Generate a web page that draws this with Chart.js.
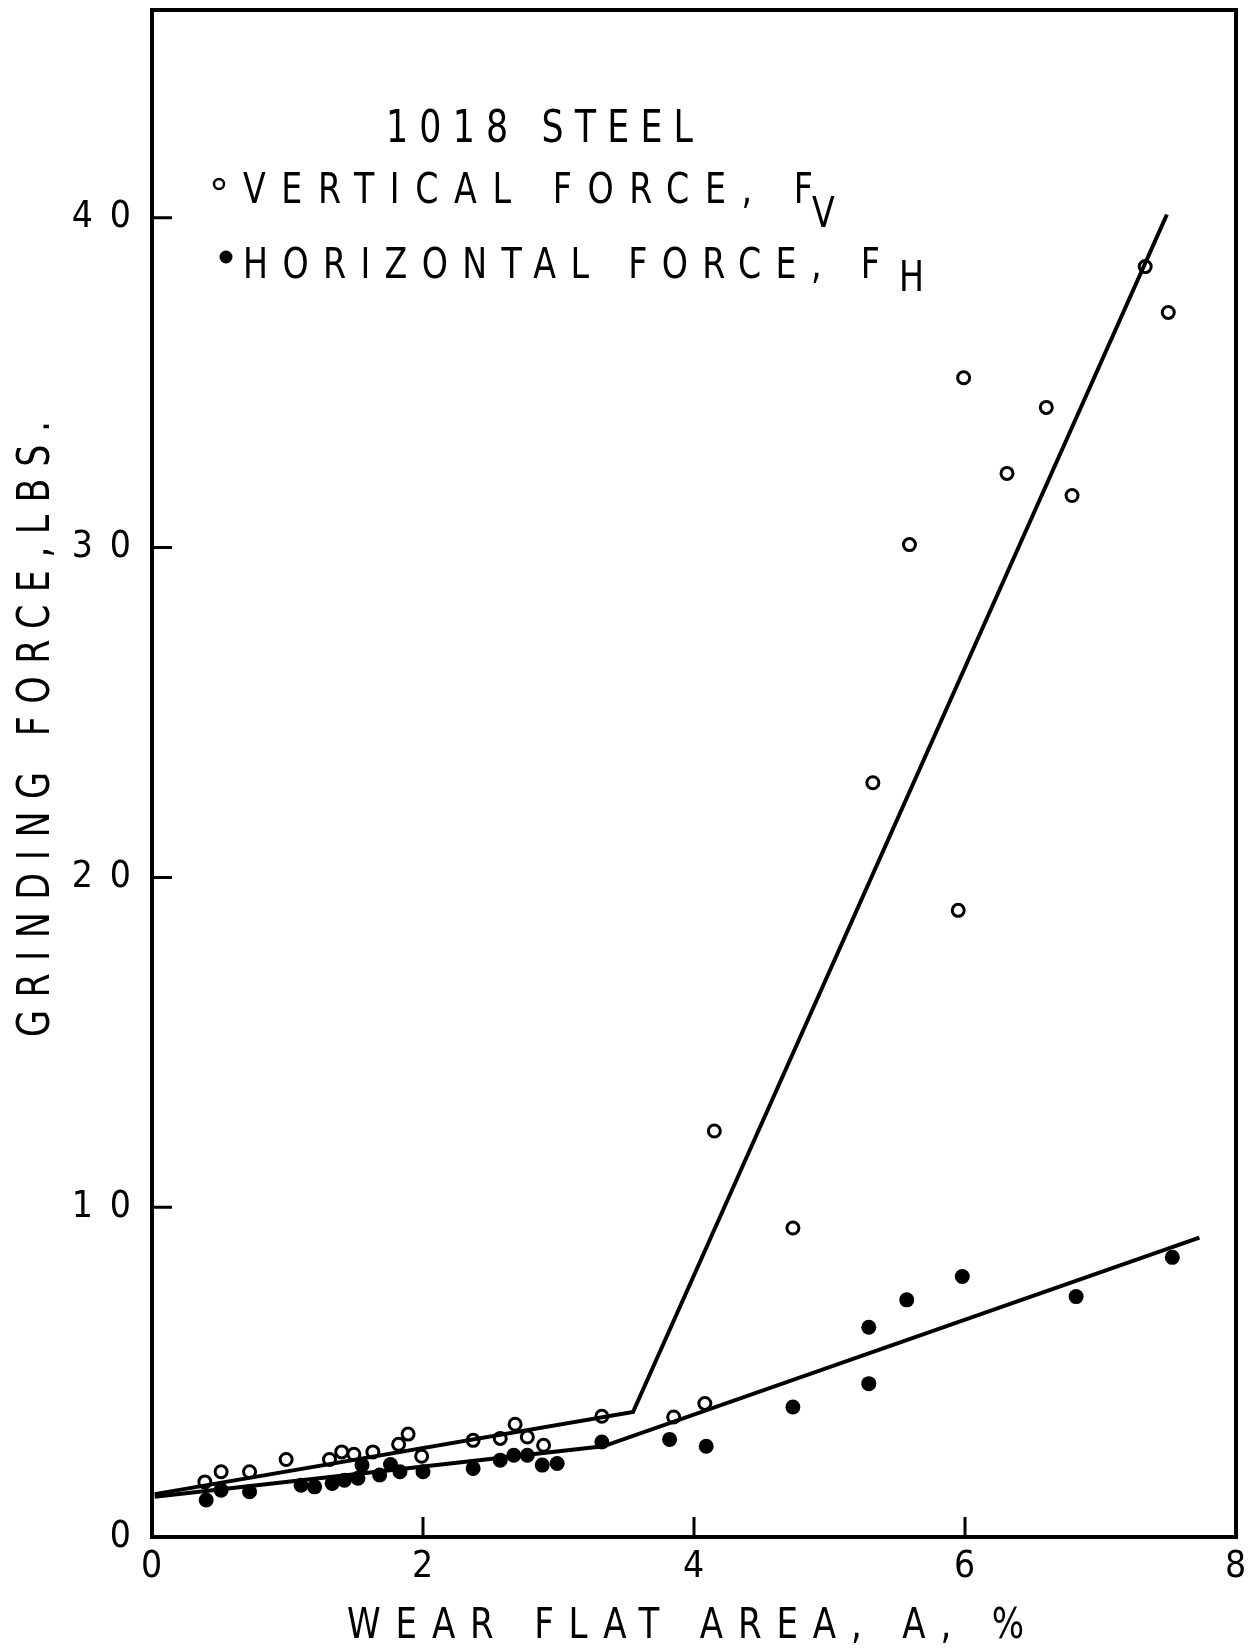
<!DOCTYPE html>
<html>
<head>
<meta charset="utf-8">
<script src="https://cdn.jsdelivr.net/npm/chart.js@4.4.1/dist/chart.umd.min.js"></script>
<style>
  html, body { margin: 0; padding: 0; background: #fff; }
  canvas { display: block; }
</style>
</head>
<body>
<canvas id="forces" width="1249" height="1648"></canvas>
<script>
const FONT = '"DejaVu Sans Condensed", "DejaVu Sans", sans-serif';

// vertical force Fv (lbs) against wear flat area A (%), open circles
const vertArea = [0.39, 0.51, 0.72, 0.99, 1.31, 1.40, 1.49, 1.63, 1.82, 1.89, 1.99, 2.37, 2.57, 2.68, 2.77,
                  2.89, 3.32, 3.85, 4.08, 4.15, 4.73, 5.32, 5.59, 5.95, 5.99, 6.31, 6.60, 6.79, 7.33, 7.50];
const vertForce = [1.67, 1.98, 1.98, 2.35, 2.35, 2.58, 2.51, 2.58, 2.81, 3.12, 2.45, 2.93, 2.99, 3.42, 3.03,
                   2.78, 3.66, 3.64, 4.05, 12.31, 9.37, 22.87, 30.09, 19.0, 35.15, 32.25, 34.25, 31.58, 38.52, 37.13];

// horizontal force Fh (lbs), filled dots
const horizArea = [0.40, 0.51, 0.72, 1.10, 1.20, 1.33, 1.42, 1.52, 1.55, 1.68, 1.76, 1.83, 2.00, 2.37, 2.57,
                   2.67, 2.77, 2.88, 2.99, 3.32, 3.82, 4.09, 4.73, 5.29, 5.29, 5.57, 5.98, 6.82, 7.53];
const horizForce = [1.12, 1.42, 1.37, 1.57, 1.52, 1.62, 1.72, 1.78, 2.18, 1.88, 2.2, 1.98, 1.98, 2.08, 2.33,
                    2.48, 2.48, 2.18, 2.23, 2.88, 2.96, 2.75, 3.94, 4.65, 6.36, 7.19, 7.90, 7.29, 8.48];

// fitted lines, two straight segments each
const vertFitArea = [0.02, 3.55, 7.49];
const vertFitForce = [1.3, 3.79, 40.1];
const horizFitArea = [0.02, 3.33, 7.73];
const horizFitForce = [1.22, 2.75, 9.08];

const xTickValues = [0, 2, 4, 6, 8];
const yTickValues = [0, 10, 20, 30, 40];

const toPoints = (xs, ys) => xs.map((x, i) => ({x: x, y: ys[i]}));

// narrow, widely spaced lettering: squeeze glyphs by k and spread them over width
function spacedText(ctx, text, x, y, width, k) {
    ctx.save();
    ctx.translate(x, y);
    ctx.scale(k, 1);
    ctx.letterSpacing = '0px';
    const n = Array.from(text).length;
    const w = ctx.measureText(text).width;
    const gap = n > 1 ? (width / k - w) / (n - 1) : 0;
    ctx.letterSpacing = gap.toFixed(2) + 'px';
    ctx.fillText(text, 0, 0);
    ctx.restore();
}

const paperPlugin = {
    id: 'paper',
    beforeDraw: function (chart) {
        // tick numerals are widely spaced
        chart.ctx.letterSpacing = '17px';
    },
    afterDraw: function (chart) {
        const ctx = chart.ctx;
        const a = chart.chartArea;
        const x = chart.scales.x;
        const y = chart.scales.y;
        ctx.save();
        ctx.letterSpacing = '0px';
        ctx.strokeStyle = '#000';
        ctx.fillStyle = '#000';

        // frame
        ctx.lineWidth = 4;
        ctx.strokeRect(a.left, a.top, a.right - a.left, a.bottom - a.top);

        // inward tick marks
        ctx.lineWidth = 3;
        ctx.beginPath();
        y.ticks.forEach(function (t) {
            if (t.value <= y.min) return;
            const py = y.getPixelForValue(t.value);
            ctx.moveTo(a.left, py);
            ctx.lineTo(a.left + 20, py);
        });
        x.ticks.forEach(function (t) {
            if (t.value <= x.min || t.value >= x.max) return;
            const px = x.getPixelForValue(t.value);
            ctx.moveTo(px, a.bottom);
            ctx.lineTo(px, a.bottom - 20);
        });
        ctx.stroke();

        ctx.textAlign = 'left';
        ctx.textBaseline = 'alphabetic';
        const k = 0.88;

        // axis titles
        ctx.font = '43px ' + FONT;
        spacedText(ctx, 'WEAR FLAT AREA, A, %', 347, 1638, 677, k);

        ctx.save();
        ctx.translate(49, 1037);
        ctx.rotate(-Math.PI / 2);
        ctx.font = '44px ' + FONT;
        spacedText(ctx, 'GRINDING FORCE,LBS.', 0, 0, 616, k);
        ctx.restore();

        // key
        ctx.font = '44px ' + FONT;
        spacedText(ctx, '1018 STEEL', 386, 142, 307, k);

        ctx.lineWidth = 2.5;
        ctx.beginPath();
        ctx.arc(219, 184, 5, 0, Math.PI * 2);
        ctx.stroke();
        ctx.font = '42px ' + FONT;
        spacedText(ctx, 'VERTICAL FORCE, F', 243, 203, 570, k);
        spacedText(ctx, 'V', 812, 227, 0, k);

        ctx.beginPath();
        ctx.arc(226, 257, 6.5, 0, Math.PI * 2);
        ctx.fill();
        spacedText(ctx, 'HORIZONTAL FORCE, F', 243, 278, 637, k);
        spacedText(ctx, 'H', 899, 291, 0, k);

        ctx.restore();
    }
};

const ctx = document.getElementById('forces');
const forceChart = new Chart(ctx, {
    type: 'scatter',
    data: {
        datasets: [
            {
                label: 'Fv fit',
                data: toPoints(vertFitArea, vertFitForce),
                showLine: true,
                borderColor: '#000',
                borderWidth: 4,
                pointRadius: 0,
                fill: false
            },
            {
                label: 'Fh fit',
                data: toPoints(horizFitArea, horizFitForce),
                showLine: true,
                borderColor: '#000',
                borderWidth: 4,
                pointRadius: 0,
                fill: false
            },
            {
                label: 'VERTICAL FORCE, Fv',
                data: toPoints(vertArea, vertForce),
                pointRadius: 6,
                pointBorderWidth: 3,
                pointBorderColor: '#000',
                pointBackgroundColor: 'rgba(255,255,255,0)'
            },
            {
                label: 'HORIZONTAL FORCE, Fh',
                data: toPoints(horizArea, horizForce),
                pointRadius: 7.5,
                pointBorderWidth: 0,
                pointBackgroundColor: '#000'
            }
        ]
    },
    options: {
        responsive: false,
        animation: false,
        devicePixelRatio: 1,
        layout: {padding: {top: 10, right: 13, left: 0, bottom: 0}},
        plugins: {
            legend: {display: false},
            tooltip: {enabled: false}
        },
        scales: {
            x: {
                type: 'linear',
                min: 0,
                max: 8,
                afterBuildTicks: function (scale) {
                    scale.ticks = xTickValues.map(function (v) { return {value: v}; });
                },
                ticks: {
                    color: '#000',
                    font: {family: FONT, size: 37},
                    padding: 8,
                    labelOffset: 8,
                    maxRotation: 0,
                    autoSkip: false
                },
                grid: {display: false, drawTicks: false},
                border: {display: false},
                afterFit: function (scale) {
                    scale.height = 111;
                    scale.paddingLeft = 0;
                    scale.paddingRight = 0;
                }
            },
            y: {
                type: 'linear',
                min: 0,
                max: 46.3,
                afterBuildTicks: function (scale) {
                    scale.ticks = yTickValues.map(function (v) { return {value: v}; });
                },
                ticks: {
                    color: '#000',
                    font: {family: FONT, size: 37},
                    padding: 4,
                    autoSkip: false
                },
                grid: {display: false, drawTicks: false},
                border: {display: false},
                afterFit: function (scale) {
                    scale.width = 152;
                    scale.paddingTop = 0;
                    scale.paddingBottom = 0;
                }
            }
        }
    },
    plugins: [paperPlugin]
});
</script>
</body>
</html>
